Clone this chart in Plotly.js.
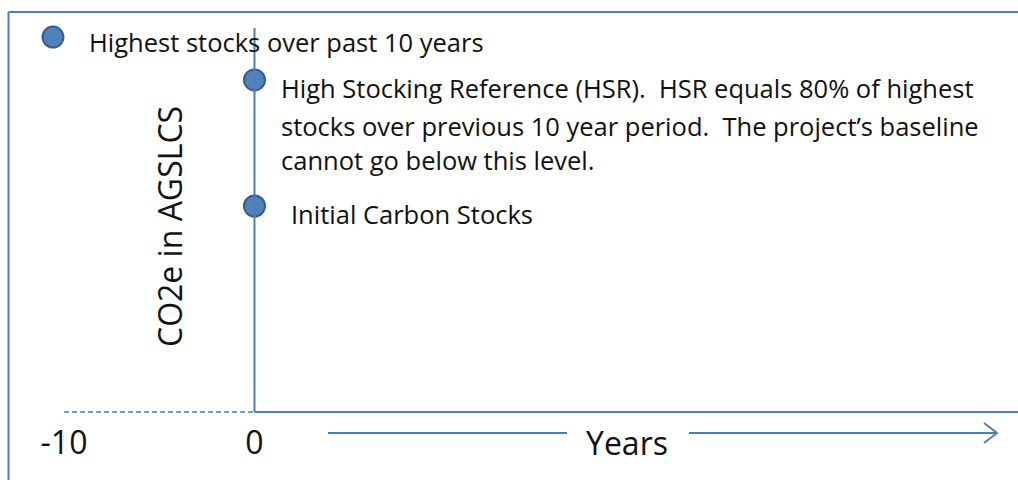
<!DOCTYPE html>
<html>
<head>
<meta charset="utf-8">
<script src="https://cdn.plot.ly/plotly-3.0.1.min.js"></script>
<style>
  html, body { margin: 0; padding: 0; background: #fff; }
  #chart { width: 1018px; height: 480px; }
</style>
</head>
<body>
<div id="chart"></div>
<script>
// ---- data ----
const pointYears  = [-10.58, 0, 0];
const pointStocks = [91, 80.6, 50];
const highestLabel = 'Highest stocks over past 10 years';
const hsrLines = [
  'High Stocking Reference (HSR).\u00a0 HSR equals 80% of highest',
  'stocks over previous 10 year period.\u00a0 The project\u2019s baseline',
  'cannot go below this level.'
];
const initialLabel = 'Initial Carbon Stocks';
const tickYears = [-10, 0];
const tickText  = ['-10', '0'];
const historyStart = -10;
const yAxisTop = 93.2;
const xTitle = 'Years';
const yTitle = 'CO2e in AGSLCS';

// ---- style ----
const BLUE = '#4A7EBB';
const FONT = '"Open Sans", "Noto Sans", sans-serif';
const W = 1018, H = 480, MB = 60;
const PH = H - MB;
const xRange = [-13.36, 40.08];
const yRange = [-1.942, 100];
const px2paperX = p => p / W;
const px2paperY = p => (PH - p) / PH;

const traces = [{
  type: 'scatter', mode: 'markers',
  x: pointYears, y: pointStocks,
  marker: { size: 21, color: '#4F81BD', line: { color: '#385D8A', width: 2 } },
  hoverinfo: 'skip', showlegend: false, cliponaxis: false
}];

const shapes = [
  { type: 'line', xref: 'paper', yref: 'paper', x0: px2paperX(8.5), x1: 1, y0: px2paperY(12), y1: px2paperY(12), line: { color: BLUE, width: 2 } },
  { type: 'line', xref: 'paper', yref: 'paper', x0: px2paperX(8.5), x1: px2paperX(8.5), y0: px2paperY(12), y1: px2paperY(H), line: { color: BLUE, width: 2 } },
  { type: 'line', xref: 'x', yref: 'y', x0: 0, x1: 0, y0: 0, y1: yAxisTop, line: { color: BLUE, width: 2 } },
  { type: 'line', xref: 'x', yref: 'y', x0: historyStart, x1: 0, y0: 0, y1: 0, line: { color: BLUE, width: 1.5, dash: '5px,3px' } },
  { type: 'line', xref: 'x', yref: 'y', x0: 0, x1: xRange[1], y0: 0, y1: 0, line: { color: BLUE, width: 2 } },
  { type: 'line', xref: 'paper', yref: 'paper', x0: px2paperX(328), x1: px2paperX(567), y0: px2paperY(433), y1: px2paperY(433), line: { color: BLUE, width: 2 } },
  { type: 'line', xref: 'paper', yref: 'paper', x0: px2paperX(689), x1: px2paperX(997), y0: px2paperY(433), y1: px2paperY(433), line: { color: BLUE, width: 2 } },
  { type: 'path', xref: 'paper', yref: 'paper',
    path: 'M' + px2paperX(984) + ',' + px2paperY(423) + ' L' + px2paperX(997) + ',' + px2paperY(433) + ' L' + px2paperX(984) + ',' + px2paperY(443),
    line: { color: BLUE, width: 2 } }
];

const txt = (size) => ({ family: FONT, size: size, color: '#111' });
const BODY = 25.5, BIG = 32;
const annotations = [
  { x: pointYears[0], y: pointStocks[0], xref: 'x', yref: 'y', text: highestLabel, showarrow: false,
    xanchor: 'left', yanchor: 'middle', xshift: 34, yshift: -5, font: txt(BODY) },
  ...hsrLines.map((t, i) => ({ x: pointYears[1], y: pointStocks[1], xref: 'x', yref: 'y', text: t, showarrow: false,
    xanchor: 'left', yanchor: 'middle', xshift: 24, yshift: -8.5 - [0, 38, 72][i], font: txt(BODY) })),
  { x: pointYears[2], y: pointStocks[2], xref: 'x', yref: 'y', text: initialLabel, showarrow: false,
    xanchor: 'left', yanchor: 'middle', xshift: 34, yshift: -8.3, font: txt(BODY) },
  { x: px2paperX(627), y: px2paperY(442), xref: 'paper', yref: 'paper', text: xTitle, showarrow: false,
    xanchor: 'center', yanchor: 'middle', font: txt(BIG) },
  { x: px2paperX(169), y: px2paperY(227), xref: 'paper', yref: 'paper', text: yTitle, showarrow: false,
    textangle: -90, xanchor: 'center', yanchor: 'middle', font: txt(BIG) }
];

const layout = {
  width: W, height: H,
  margin: { l: 0, r: 0, t: 0, b: MB, pad: 0 },
  paper_bgcolor: '#fff', plot_bgcolor: '#fff',
  showlegend: false,
  xaxis: { range: xRange, showgrid: false, zeroline: false, showline: false, ticks: '',
           tickvals: tickYears, ticktext: tickText, tickfont: txt(BIG), ticklabelstandoff: 1, fixedrange: true },
  yaxis: { range: yRange, visible: false, fixedrange: true },
  shapes: shapes,
  annotations: annotations
};

Plotly.newPlot('chart', traces, layout, { displayModeBar: false, staticPlot: true });
</script>
</body>
</html>
